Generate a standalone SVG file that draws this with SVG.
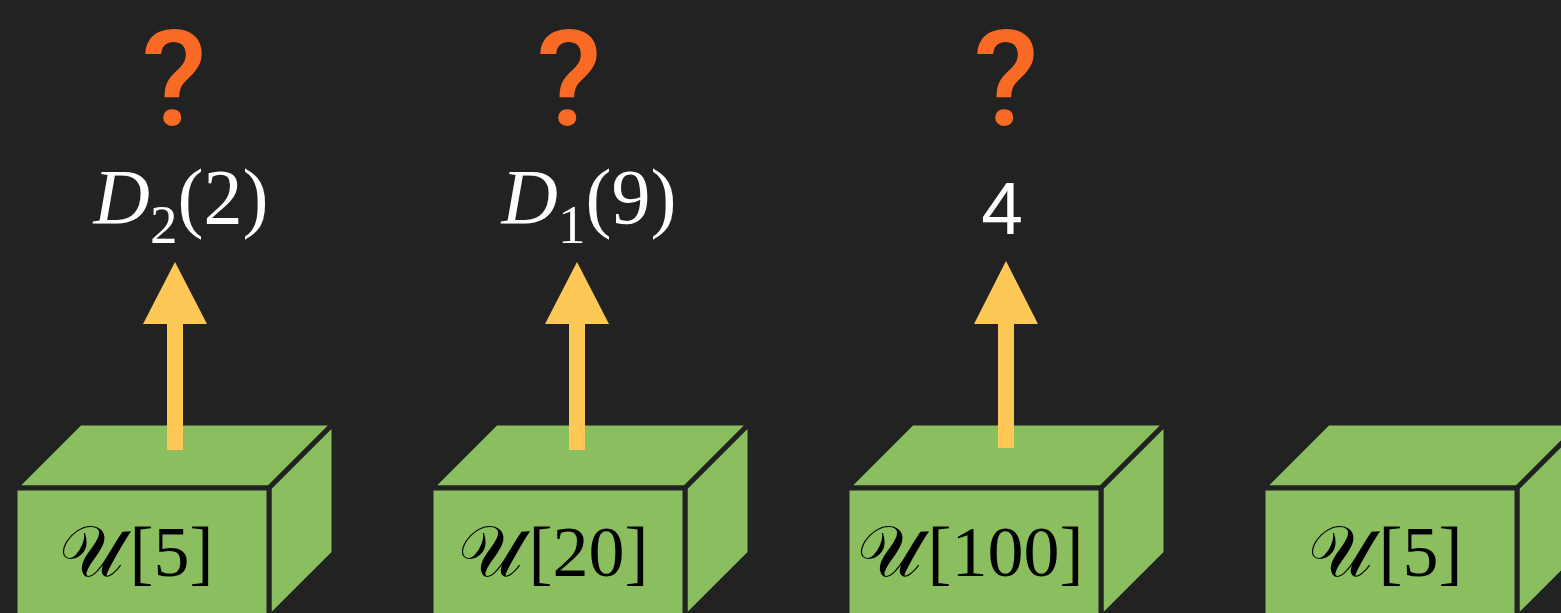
<svg xmlns="http://www.w3.org/2000/svg" width="1561" height="613" viewBox="0 0 1561 613">
<style>
.face{fill:#8BBE5F;stroke:#222222;stroke-width:5;stroke-linejoin:miter}
.q{font-family:Roboto,"Liberation Sans",Arial,sans-serif;font-weight:500;font-size:134px;fill:#F96B25;text-anchor:middle}
.lab{font-family:"Liberation Serif","Times New Roman",serif;font-size:78px;fill:#ffffff;text-anchor:middle}
.num{font-family:"Liberation Sans",Arial,sans-serif;font-size:75px;fill:#ffffff;text-anchor:middle}
.box{font-family:"Liberation Serif","DejaVu Serif","Times New Roman",serif;font-size:72px;fill:#000000;text-anchor:middle}
.arrow{fill:#FEC857}
</style>
<rect width="1561" height="613" fill="#222222"/>
<g id="box1">
<polygon class="face" points="15,488 80,423 334,423 269,488"/>
<polygon class="face" points="269,488 334,423 334,553 269,618"/>
<rect class="face" x="15" y="488" width="254" height="130"/>
<text class="box" x="136" y="576">𝒰<tspan dx="6">[5]</tspan></text>
</g>
<g id="box2">
<polygon class="face" points="431,488 496,423 750,423 685,488"/>
<polygon class="face" points="685,488 750,423 750,553 685,618"/>
<rect class="face" x="431" y="488" width="254" height="130"/>
<text class="box" x="553" y="576">𝒰<tspan dx="6">[20]</tspan></text>
</g>
<g id="box3">
<polygon class="face" points="847,488 912,423 1166,423 1101,488"/>
<polygon class="face" points="1101,488 1166,423 1166,553 1101,618"/>
<rect class="face" x="847" y="488" width="254" height="130"/>
<text class="box" x="970" y="576">𝒰<tspan dx="6">[100]</tspan></text>
</g>
<g id="box4">
<polygon class="face" points="1263,488 1328,423 1582,423 1517,488"/>
<polygon class="face" points="1517,488 1582,423 1582,553 1517,618"/>
<rect class="face" x="1263" y="488" width="254" height="130"/>
<text class="box" x="1385" y="576">𝒰<tspan dx="6">[5]</tspan></text>
</g>
<g id="connectors">
<path class="arrow" d="M167,450 V324 H143 L175,262 L207,324 H183 V450 Z"/>
<path class="arrow" d="M569,450 V324 H545 L577,262 L609,324 H585 V450 Z"/>
<path class="arrow" d="M998,448 V324 H974 L1006,261 L1038,324 H1014 V448 Z"/>
</g>
<g id="label1">
<text class="q" x="174" y="125">?</text>
<text class="lab" x="181" y="223"><tspan font-style="italic">D</tspan><tspan font-size="55" dy="20">2</tspan><tspan dy="-20">(2)</tspan></text>
</g>
<g id="label2">
<text class="q" x="569" y="125">?</text>
<text class="lab" x="589" y="223"><tspan font-style="italic">D</tspan><tspan font-size="55" dy="20">1</tspan><tspan dy="-20">(9)</tspan></text>
</g>
<g id="label3">
<text class="q" x="1006" y="125">?</text>
<text class="num" x="1002" y="234">4</text>
</g>
</svg>
